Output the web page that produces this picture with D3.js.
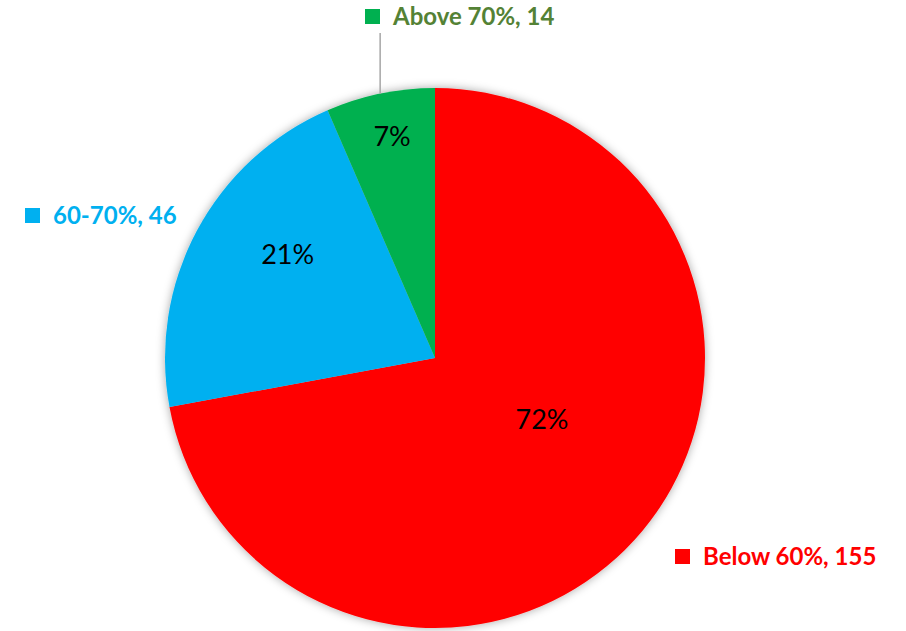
<!DOCTYPE html>
<html>
<head>
<meta charset="utf-8">
<script src="https://cdn.jsdelivr.net/npm/d3@7"></script>
<style>
  html, body { margin: 0; padding: 0; background: #ffffff; }
  svg { display: block; }
</style>
</head>
<body>
<svg id="chart" width="906" height="631"></svg>
<script>
// ---- data ----
const categories = ["Below 60%", "60-70%", "Above 70%"];
const values = [155, 46, 14];
const percentLabels = ["72%", "21%", "7%"];
const sliceColors = ["#FF0000", "#00B0F0", "#00B050"];
const labelColors = ["#FF0000", "#00B0F0", "#548235"];

// ---- layout ----
const W = 906, H = 631;
const cx = 435, cy = 358, R = 270;
// percent label placement: [radius fraction, angle offset in degrees]
const pctPlace = [[0.456, -10.1], [0.67, 7.4], [0.84, 0.8]];
// outside category label placement (square left x, square top y)
const catPlace = [[675, 549], [25, 208], [365, 9]];

const svg = d3.select("#chart");
const defs = svg.append("defs");
const f = defs.append("filter").attr("id", "shadow")
  .attr("x", "-20%").attr("y", "-20%").attr("width", "140%").attr("height", "140%");
f.append("feDropShadow").attr("dx", 0).attr("dy", 0)
  .attr("stdDeviation", 5).attr("flood-color", "#000").attr("flood-opacity", 0.35);

const pie = d3.pie().sort(null).value(d => d)(values);
const arc = d3.arc().innerRadius(0).outerRadius(R);

const g = svg.append("g").attr("transform", `translate(${cx},${cy})`);

g.append("g").attr("filter", "url(#shadow)")
  .selectAll("path").data(pie).join("path")
  .attr("d", arc)
  .attr("fill", (d, i) => sliceColors[i]);

// percent labels
g.selectAll("text.pct").data(pie).join("text")
  .attr("class", "pct")
  .each(function(d, i) {
    const mid = (d.startAngle + d.endAngle) / 2 + pctPlace[i][1] * Math.PI / 180;
    const [x, y] = d3.pointRadial(mid, R * pctPlace[i][0]);
    d3.select(this).attr("x", x).attr("y", y);
  })
  .attr("text-anchor", "middle")
  .attr("dominant-baseline", "central")
  .attr("font-family", "Lato, 'Open Sans', sans-serif")
  .attr("font-size", 27)
  .attr("fill", "#000")
  .text((d, i) => percentLabels[i]);

// leader line for the small slice
{
  const d = pie[2];
  const mid = (d.startAngle + d.endAngle) / 2;
  const [x, y] = d3.pointRadial(mid, R);
  g.append("line")
    .attr("x1", x).attr("y1", y)
    .attr("x2", x).attr("y2", 33 - cy)
    .attr("stroke", "#A6A6A6").attr("stroke-width", 1.5);
}

// category labels
const cats = svg.append("g").selectAll("g").data(categories).join("g")
  .attr("transform", (d, i) => `translate(${catPlace[i][0]},${catPlace[i][1]})`);
cats.append("rect")
  .attr("width", 15).attr("height", 15)
  .attr("fill", (d, i) => sliceColors[i]);
cats.append("text")
  .attr("x", 28).attr("y", 16)
  .attr("font-family", "Lato, 'Open Sans', sans-serif")
  .attr("font-weight", "bold")
  .attr("font-size", 24)
  .attr("fill", (d, i) => labelColors[i])
  .text((d, i) => `${d}, ${values[i]}`);
</script>
</body>
</html>
